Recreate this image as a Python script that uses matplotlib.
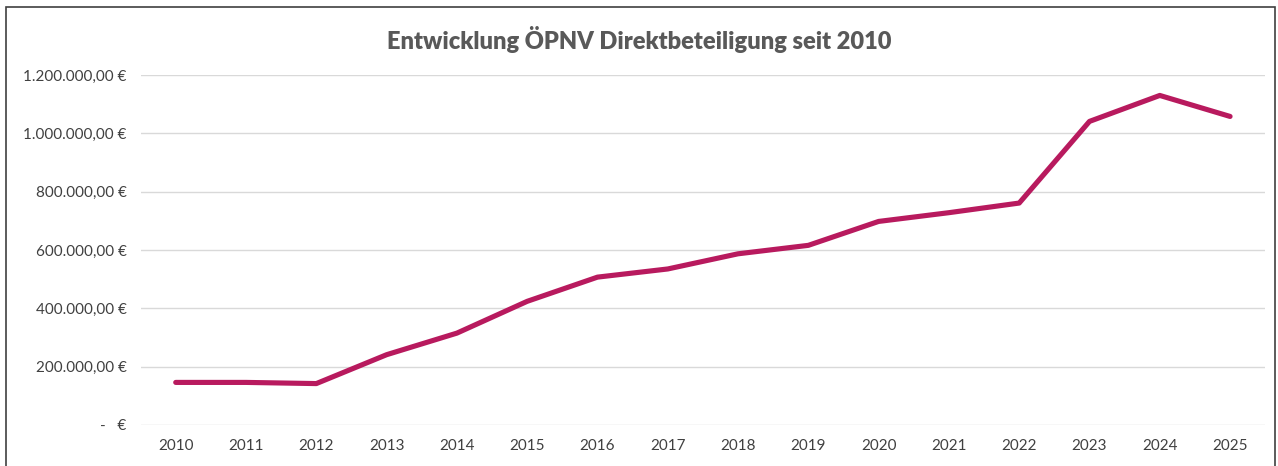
import matplotlib.pyplot as plt
from matplotlib.ticker import FuncFormatter

# data
years = ['2010', '2011', '2012', '2013', '2014', '2015', '2016', '2017',
         '2018', '2019', '2020', '2021', '2022', '2023', '2024', '2025']
betrag = [146000, 146000, 142000, 241000, 315000, 424000, 507000, 535000,
          587000, 616000, 698000, 728000, 761000, 1041000, 1130000, 1058000]
yticks = [0, 200000, 400000, 600000, 800000, 1000000, 1200000]

lineColor = '#B81A5E'
textColor = '#595959'

#german accounting style labels
def euro(v, pos):
    if v == 0:
        return '-   €'
    s = '{:,.2f}'.format(v)
    s = s.replace(',', 'X').replace('.', ',').replace('X', '.')
    return s + ' €'

fig = plt.figure(figsize=(12.78, 4.66), dpi=100, facecolor='white')
ax = fig.add_axes([0.110, 0.088, 0.880, 0.751])

x = range(len(years))
ax.plot(x, betrag, color=lineColor, linewidth=3.7, solid_capstyle='round', solid_joinstyle='round', zorder=3)

ax.set_xlim(-0.5, len(years) - 0.5)
ax.set_ylim(0, 1200000)
ax.set_xticks(list(x))
ax.set_xticklabels(years)
ax.set_yticks(yticks)
ax.yaxis.set_major_formatter(FuncFormatter(euro))
ax.tick_params(length=0, labelsize=11, labelcolor='#404040', pad=10)
for lbl in ax.get_xticklabels() + ax.get_yticklabels():
    lbl.set_fontfamily('Lato')

ax.grid(axis='y', color='#D9D9D9', linewidth=1)
ax.set_axisbelow(True)
for sp in ax.spines.values():
    sp.set_visible(False)

fig.text(0.50, 0.915, 'Entwicklung ÖPNV Direktbeteiligung seit 2010', ha='center', va='center',
         fontsize=17, fontweight='heavy', color=textColor, family='Lato')

#outer frame like the excel chart border
frame = plt.Rectangle((0.005, -0.05), 0.993, 1.035, transform=fig.transFigure, fill=False,
                      edgecolor='#404040', linewidth=1.2)
fig.patches.append(frame)

fig.savefig('out.png', dpi=100, facecolor='white')
